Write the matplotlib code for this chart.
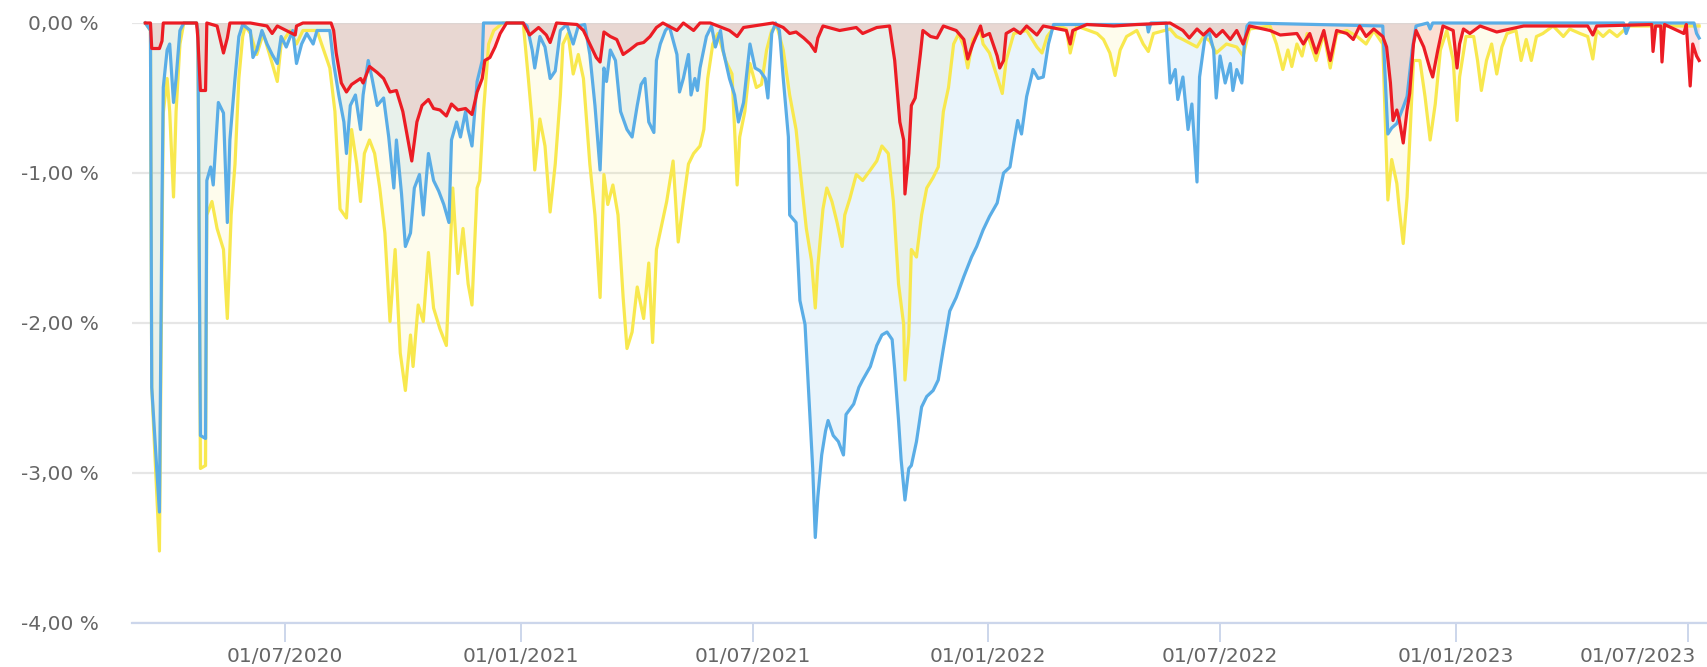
import matplotlib
matplotlib.use("Agg")
import matplotlib.pyplot as plt
import matplotlib.transforms as mtransforms
import pandas as pd

# drawdown series, (date, value in %)
yellow_series = [
    ("2020-03-14", 0), ("2020-03-18", -0.05), ("2020-03-19", -2.43), ("2020-03-25", -3.52),
    ("2020-03-27", -1.50), ("2020-03-28", -0.60), ("2020-03-31", -0.37), ("2020-04-02", -0.59),
    ("2020-04-05", -1.16), ("2020-04-07", -0.59), ("2020-04-10", -0.14), ("2020-04-13", 0),
    ("2020-04-23", 0), ("2020-04-24", -0.05), ("2020-04-26", -2.97), ("2020-04-30", -2.95),
    ("2020-05-01", -1.28), ("2020-05-05", -1.19), ("2020-05-09", -1.37), ("2020-05-14", -1.51),
    ("2020-05-17", -1.97), ("2020-05-20", -1.28), ("2020-05-23", -0.94), ("2020-05-26", -0.37),
    ("2020-05-29", -0.09), ("2020-05-31", -0.02), ("2020-06-04", -0.07), ("2020-06-09", -0.21),
    ("2020-06-14", -0.07), ("2020-06-19", -0.21), ("2020-06-25", -0.39), ("2020-06-28", -0.14),
    ("2020-07-05", -0.05), ("2020-07-10", -0.14), ("2020-07-15", -0.05), ("2020-07-26", -0.05),
    ("2020-08-05", -0.30), ("2020-08-09", -0.59), ("2020-08-13", -1.24), ("2020-08-18", -1.30),
    ("2020-08-22", -0.71), ("2020-08-26", -0.94), ("2020-08-29", -1.19), ("2020-09-01", -0.87),
    ("2020-09-05", -0.78), ("2020-09-09", -0.87), ("2020-09-13", -1.10), ("2020-09-17", -1.40),
    ("2020-09-21", -1.99), ("2020-09-25", -1.51), ("2020-09-29", -2.20), ("2020-10-03", -2.45),
    ("2020-10-07", -2.08), ("2020-10-09", -2.29), ("2020-10-13", -1.88), ("2020-10-17", -1.99),
    ("2020-10-21", -1.53), ("2020-10-25", -1.90), ("2020-10-30", -2.04), ("2020-11-04", -2.15),
    ("2020-11-09", -1.10), ("2020-11-13", -1.67), ("2020-11-17", -1.37), ("2020-11-21", -1.74),
    ("2020-11-24", -1.88), ("2020-11-28", -1.10), ("2020-11-30", -1.05), ("2020-12-03", -0.59),
    ("2020-12-07", -0.14), ("2020-12-11", -0.05), ("2020-12-18", 0), ("2021-01-03", 0),
    ("2021-01-07", -0.37), ("2021-01-10", -0.66), ("2021-01-12", -0.98), ("2021-01-16", -0.64),
    ("2021-01-20", -0.82), ("2021-01-24", -1.26), ("2021-01-28", -0.94), ("2021-02-01", -0.48),
    ("2021-02-03", -0.14), ("2021-02-07", -0.07), ("2021-02-11", -0.34), ("2021-02-15", -0.21),
    ("2021-02-19", -0.37), ("2021-02-24", -0.94), ("2021-02-28", -1.28), ("2021-03-04", -1.83),
    ("2021-03-07", -1.01), ("2021-03-10", -1.21), ("2021-03-14", -1.08), ("2021-03-18", -1.28),
    ("2021-03-22", -1.83), ("2021-03-25", -2.17), ("2021-03-29", -2.06), ("2021-04-02", -1.76),
    ("2021-04-07", -1.97), ("2021-04-11", -1.60), ("2021-04-14", -2.13), ("2021-04-17", -1.51),
    ("2021-04-21", -1.35), ("2021-04-25", -1.19), ("2021-04-30", -0.92), ("2021-05-04", -1.46),
    ("2021-05-08", -1.19), ("2021-05-12", -0.94), ("2021-05-16", -0.87), ("2021-05-21", -0.82),
    ("2021-05-24", -0.71), ("2021-05-27", -0.37), ("2021-05-31", -0.14), ("2021-06-04", -0.07),
    ("2021-06-10", -0.25), ("2021-06-15", -0.34), ("2021-06-19", -1.08), ("2021-06-21", -0.76),
    ("2021-06-25", -0.59), ("2021-06-29", -0.27), ("2021-07-04", -0.43), ("2021-07-08", -0.41),
    ("2021-07-12", -0.18), ("2021-07-16", -0.05), ("2021-07-20", -0.02), ("2021-07-25", -0.18),
    ("2021-07-30", -0.48), ("2021-08-04", -0.71), ("2021-08-08", -1.05), ("2021-08-12", -1.37),
    ("2021-08-16", -1.58), ("2021-08-19", -1.90), ("2021-08-21", -1.62), ("2021-08-25", -1.24),
    ("2021-08-28", -1.10), ("2021-09-01", -1.19), ("2021-09-05", -1.33), ("2021-09-09", -1.49),
    ("2021-09-11", -1.28), ("2021-09-15", -1.17), ("2021-09-20", -1.01), ("2021-09-25", -1.05),
    ("2021-10-01", -0.98), ("2021-10-06", -0.92), ("2021-10-10", -0.82), ("2021-10-15", -0.87),
    ("2021-10-19", -1.19), ("2021-10-23", -1.74), ("2021-10-27", -2.01), ("2021-10-28", -2.38),
    ("2021-10-31", -2.08), ("2021-11-02", -1.51), ("2021-11-06", -1.56), ("2021-11-10", -1.28),
    ("2021-11-14", -1.10), ("2021-11-19", -1.03), ("2021-11-23", -0.96), ("2021-11-27", -0.59),
    ("2021-12-01", -0.43), ("2021-12-05", -0.14), ("2021-12-09", -0.07), ("2021-12-13", -0.16),
    ("2021-12-16", -0.30), ("2021-12-20", -0.11), ("2021-12-26", -0.05), ("2021-12-28", -0.14),
    ("2022-01-02", -0.20), ("2022-01-08", -0.36), ("2022-01-12", -0.47), ("2022-01-15", -0.25),
    ("2022-01-21", -0.07), ("2022-01-31", -0.05), ("2022-02-08", -0.16), ("2022-02-12", -0.20),
    ("2022-02-16", -0.09), ("2022-02-23", -0.01), ("2022-03-03", -0.04), ("2022-03-06", -0.20),
    ("2022-03-11", -0.02), ("2022-03-27", -0.07), ("2022-04-01", -0.11), ("2022-04-06", -0.20),
    ("2022-04-10", -0.35), ("2022-04-14", -0.18), ("2022-04-19", -0.09), ("2022-04-27", -0.05),
    ("2022-05-02", -0.14), ("2022-05-06", -0.19), ("2022-05-10", -0.07), ("2022-05-23", -0.04),
    ("2022-05-28", -0.09), ("2022-06-02", -0.11), ("2022-06-13", -0.16), ("2022-06-18", -0.09),
    ("2022-06-23", -0.12), ("2022-06-28", -0.20), ("2022-07-06", -0.14), ("2022-07-14", -0.16),
    ("2022-07-19", -0.22), ("2022-07-24", -0.04), ("2022-08-09", -0.02), ("2022-08-14", -0.14),
    ("2022-08-19", -0.31), ("2022-08-23", -0.18), ("2022-08-26", -0.29), ("2022-08-30", -0.14),
    ("2022-09-03", -0.22), ("2022-09-07", -0.07), ("2022-09-14", -0.25), ("2022-09-20", -0.07),
    ("2022-09-25", -0.30), ("2022-09-30", -0.07), ("2022-10-08", -0.05), ("2022-10-16", -0.09),
    ("2022-10-23", -0.14), ("2022-10-29", -0.05), ("2022-11-05", -0.14), ("2022-11-09", -1.18),
    ("2022-11-12", -0.91), ("2022-11-16", -1.07), ("2022-11-18", -1.25), ("2022-11-21", -1.47),
    ("2022-11-24", -1.16), ("2022-11-26", -0.80), ("2022-11-29", -0.25), ("2022-12-04", -0.25),
    ("2022-12-08", -0.49), ("2022-12-12", -0.78), ("2022-12-16", -0.54), ("2022-12-20", -0.18),
    ("2022-12-25", -0.05), ("2022-12-30", -0.25), ("2023-01-02", -0.65), ("2023-01-04", -0.36),
    ("2023-01-09", -0.09), ("2023-01-15", -0.09), ("2023-01-18", -0.25), ("2023-01-21", -0.45),
    ("2023-01-25", -0.25), ("2023-01-29", -0.14), ("2023-02-02", -0.34), ("2023-02-06", -0.16),
    ("2023-02-10", -0.07), ("2023-02-17", -0.05), ("2023-02-21", -0.25), ("2023-02-25", -0.11),
    ("2023-03-01", -0.25), ("2023-03-05", -0.09), ("2023-03-10", -0.07), ("2023-03-18", -0.02),
    ("2023-03-26", -0.09), ("2023-03-31", -0.04), ("2023-04-08", -0.07), ("2023-04-14", -0.09),
    ("2023-04-18", -0.24), ("2023-04-21", -0.05), ("2023-04-26", -0.09), ("2023-05-01", -0.05),
    ("2023-05-07", -0.09), ("2023-05-12", -0.05), ("2023-05-17", -0.02), ("2023-07-10", -0.02),
]

blue_series = [
    ("2020-03-14", 0), ("2020-03-18", -0.05), ("2020-03-19", -2.43), ("2020-03-25", -3.26),
    ("2020-03-27", -1.20), ("2020-03-28", -0.43), ("2020-03-31", -0.18), ("2020-04-02", -0.14),
    ("2020-04-05", -0.53), ("2020-04-07", -0.37), ("2020-04-10", -0.05), ("2020-04-13", 0),
    ("2020-04-23", 0), ("2020-04-24", -0.05), ("2020-04-26", -2.75), ("2020-04-30", -2.77),
    ("2020-05-01", -1.05), ("2020-05-04", -0.96), ("2020-05-06", -1.08), ("2020-05-10", -0.53),
    ("2020-05-14", -0.60), ("2020-05-17", -1.33), ("2020-05-19", -0.78), ("2020-05-23", -0.37),
    ("2020-05-26", -0.09), ("2020-05-29", -0.01), ("2020-06-04", -0.05), ("2020-06-06", -0.23),
    ("2020-06-09", -0.18), ("2020-06-13", -0.05), ("2020-06-17", -0.14), ("2020-06-21", -0.21),
    ("2020-06-25", -0.27), ("2020-06-28", -0.09), ("2020-07-02", -0.16), ("2020-07-07", -0.05),
    ("2020-07-10", -0.27), ("2020-07-14", -0.14), ("2020-07-18", -0.07), ("2020-07-23", -0.14),
    ("2020-07-26", -0.05), ("2020-08-05", -0.05), ("2020-08-08", -0.27), ("2020-08-12", -0.48),
    ("2020-08-16", -0.66), ("2020-08-18", -0.87), ("2020-08-21", -0.55), ("2020-08-25", -0.48),
    ("2020-08-29", -0.71), ("2020-08-31", -0.48), ("2020-09-04", -0.25), ("2020-09-07", -0.37),
    ("2020-09-11", -0.55), ("2020-09-16", -0.50), ("2020-09-20", -0.76), ("2020-09-24", -1.10),
    ("2020-09-26", -0.78), ("2020-09-30", -1.14), ("2020-10-03", -1.49), ("2020-10-07", -1.40),
    ("2020-10-10", -1.10), ("2020-10-14", -1.01), ("2020-10-17", -1.28), ("2020-10-21", -0.87),
    ("2020-10-25", -1.05), ("2020-10-29", -1.12), ("2020-11-02", -1.21), ("2020-11-06", -1.33),
    ("2020-11-08", -0.78), ("2020-11-12", -0.66), ("2020-11-15", -0.76), ("2020-11-19", -0.59),
    ("2020-11-21", -0.71), ("2020-11-24", -0.82), ("2020-11-28", -0.39), ("2020-12-02", -0.25),
    ("2020-12-03", 0), ("2021-01-03", 0), ("2021-01-06", -0.02), ("2021-01-10", -0.18),
    ("2021-01-12", -0.30), ("2021-01-16", -0.09), ("2021-01-20", -0.16), ("2021-01-24", -0.37),
    ("2021-01-28", -0.32), ("2021-02-01", -0.05), ("2021-02-06", -0.01), ("2021-02-11", -0.14),
    ("2021-02-15", -0.02), ("2021-02-20", -0.01), ("2021-02-24", -0.21), ("2021-02-28", -0.55),
    ("2021-03-04", -0.98), ("2021-03-07", -0.30), ("2021-03-09", -0.39), ("2021-03-12", -0.18),
    ("2021-03-16", -0.25), ("2021-03-20", -0.59), ("2021-03-25", -0.71), ("2021-03-29", -0.76),
    ("2021-04-02", -0.55), ("2021-04-05", -0.41), ("2021-04-08", -0.37), ("2021-04-11", -0.66),
    ("2021-04-15", -0.73), ("2021-04-17", -0.25), ("2021-04-20", -0.14), ("2021-04-24", -0.05),
    ("2021-04-27", -0.02), ("2021-05-03", -0.21), ("2021-05-05", -0.46), ("2021-05-08", -0.37),
    ("2021-05-12", -0.21), ("2021-05-14", -0.48), ("2021-05-17", -0.37), ("2021-05-19", -0.45),
    ("2021-05-21", -0.30), ("2021-05-26", -0.09), ("2021-05-30", -0.02), ("2021-06-02", -0.16),
    ("2021-06-06", -0.05), ("2021-06-08", -0.18), ("2021-06-13", -0.37), ("2021-06-17", -0.48),
    ("2021-06-20", -0.66), ("2021-06-24", -0.53), ("2021-06-29", -0.14), ("2021-07-03", -0.30),
    ("2021-07-07", -0.32), ("2021-07-11", -0.37), ("2021-07-13", -0.50), ("2021-07-16", -0.07),
    ("2021-07-19", 0), ("2021-07-22", -0.05), ("2021-07-25", -0.37), ("2021-07-29", -0.76),
    ("2021-07-30", -1.28), ("2021-08-04", -1.33), ("2021-08-07", -1.85), ("2021-08-11", -2.01),
    ("2021-08-15", -2.65), ("2021-08-17", -2.97), ("2021-08-19", -3.43), ("2021-08-21", -3.16),
    ("2021-08-24", -2.88), ("2021-08-27", -2.72), ("2021-08-29", -2.65), ("2021-09-02", -2.75),
    ("2021-09-06", -2.79), ("2021-09-10", -2.88), ("2021-09-12", -2.61), ("2021-09-18", -2.54),
    ("2021-09-22", -2.43), ("2021-09-25", -2.38), ("2021-10-01", -2.29), ("2021-10-06", -2.15),
    ("2021-10-10", -2.08), ("2021-10-14", -2.06), ("2021-10-18", -2.11), ("2021-10-20", -2.31),
    ("2021-10-23", -2.65), ("2021-10-25", -2.91), ("2021-10-28", -3.18), ("2021-10-31", -2.97),
    ("2021-11-02", -2.95), ("2021-11-06", -2.79), ("2021-11-10", -2.56), ("2021-11-14", -2.49),
    ("2021-11-19", -2.45), ("2021-11-23", -2.38), ("2021-11-27", -2.17), ("2021-12-02", -1.92),
    ("2021-12-07", -1.83), ("2021-12-13", -1.69), ("2021-12-19", -1.56), ("2021-12-23", -1.49),
    ("2021-12-28", -1.38), ("2022-01-02", -1.29), ("2022-01-08", -1.20), ("2022-01-13", -1.00),
    ("2022-01-18", -0.96), ("2022-01-21", -0.80), ("2022-01-24", -0.65), ("2022-01-27", -0.74),
    ("2022-01-31", -0.49), ("2022-02-05", -0.31), ("2022-02-09", -0.37), ("2022-02-13", -0.36),
    ("2022-02-17", -0.14), ("2022-02-21", -0.01), ("2022-05-05", -0.01), ("2022-05-06", -0.06),
    ("2022-05-08", 0), ("2022-05-20", 0), ("2022-05-23", -0.40), ("2022-05-27", -0.31),
    ("2022-05-29", -0.51), ("2022-06-02", -0.36), ("2022-06-06", -0.71), ("2022-06-09", -0.54),
    ("2022-06-13", -1.06), ("2022-06-15", -0.36), ("2022-06-19", -0.11), ("2022-06-22", -0.05),
    ("2022-06-26", -0.18), ("2022-06-28", -0.50), ("2022-07-01", -0.22), ("2022-07-05", -0.40),
    ("2022-07-09", -0.27), ("2022-07-11", -0.45), ("2022-07-14", -0.31), ("2022-07-18", -0.40),
    ("2022-07-20", -0.14), ("2022-07-22", -0.02), ("2022-07-24", 0), ("2022-11-05", -0.02),
    ("2022-11-09", -0.74), ("2022-11-12", -0.70), ("2022-11-16", -0.67), ("2022-11-21", -0.56),
    ("2022-11-24", -0.49), ("2022-11-28", -0.18), ("2022-12-01", -0.02), ("2022-12-10", 0),
    ("2022-12-12", -0.04), ("2022-12-14", 0), ("2023-05-12", 0), ("2023-05-14", -0.07),
    ("2023-05-17", 0), ("2023-07-06", 0), ("2023-07-08", -0.07), ("2023-07-10", -0.10),
]

red_series = [
    ("2020-03-14", 0), ("2020-03-18", 0), ("2020-03-19", -0.17), ("2020-03-25", -0.17),
    ("2020-03-27", -0.12), ("2020-03-28", 0), ("2020-04-23", 0), ("2020-04-24", -0.10),
    ("2020-04-26", -0.45), ("2020-04-30", -0.45), ("2020-05-01", 0), ("2020-05-09", -0.02),
    ("2020-05-14", -0.20), ("2020-05-17", -0.10), ("2020-05-19", 0), ("2020-06-04", 0),
    ("2020-06-17", -0.02), ("2020-06-21", -0.07), ("2020-06-25", -0.02), ("2020-07-09", -0.08),
    ("2020-07-10", -0.02), ("2020-07-15", 0), ("2020-08-06", 0), ("2020-08-08", -0.05),
    ("2020-08-10", -0.20), ("2020-08-14", -0.40), ("2020-08-18", -0.46), ("2020-08-22", -0.41),
    ("2020-08-29", -0.37), ("2020-08-31", -0.40), ("2020-09-05", -0.29), ("2020-09-11", -0.33),
    ("2020-09-16", -0.37), ("2020-09-21", -0.46), ("2020-09-26", -0.45), ("2020-10-01", -0.59),
    ("2020-10-05", -0.78), ("2020-10-08", -0.92), ("2020-10-12", -0.66), ("2020-10-16", -0.55),
    ("2020-10-21", -0.51), ("2020-10-25", -0.57), ("2020-10-30", -0.58), ("2020-11-04", -0.62),
    ("2020-11-08", -0.54), ("2020-11-13", -0.58), ("2020-11-19", -0.57), ("2020-11-24", -0.61),
    ("2020-11-28", -0.46), ("2020-12-02", -0.37), ("2020-12-04", -0.25), ("2020-12-08", -0.23),
    ("2020-12-12", -0.16), ("2020-12-16", -0.07), ("2020-12-21", 0), ("2021-01-03", 0),
    ("2021-01-08", -0.08), ("2021-01-15", -0.03), ("2021-01-21", -0.08), ("2021-01-24", -0.13),
    ("2021-01-29", 0), ("2021-02-14", -0.01), ("2021-02-19", -0.05), ("2021-02-24", -0.14),
    ("2021-03-01", -0.23), ("2021-03-04", -0.26), ("2021-03-07", -0.06), ("2021-03-12", -0.09),
    ("2021-03-17", -0.11), ("2021-03-22", -0.21), ("2021-03-27", -0.18), ("2021-04-02", -0.14),
    ("2021-04-07", -0.13), ("2021-04-12", -0.09), ("2021-04-17", -0.03), ("2021-04-22", 0),
    ("2021-05-03", -0.05), ("2021-05-08", 0), ("2021-05-16", -0.05), ("2021-05-21", 0),
    ("2021-05-29", 0), ("2021-06-13", -0.05), ("2021-06-19", -0.09), ("2021-06-24", -0.03),
    ("2021-07-17", 0), ("2021-07-25", -0.03), ("2021-07-30", -0.07), ("2021-08-04", -0.06),
    ("2021-08-10", -0.10), ("2021-08-15", -0.14), ("2021-08-19", -0.19), ("2021-08-21", -0.10),
    ("2021-08-25", -0.02), ("2021-09-07", -0.05), ("2021-09-20", -0.03), ("2021-09-25", -0.07),
    ("2021-10-06", -0.03), ("2021-10-16", -0.02), ("2021-10-20", -0.25), ("2021-10-24", -0.66),
    ("2021-10-27", -0.78), ("2021-10-28", -1.14), ("2021-10-31", -0.87), ("2021-11-02", -0.55),
    ("2021-11-05", -0.50), ("2021-11-09", -0.21), ("2021-11-11", -0.05), ("2021-11-17", -0.09),
    ("2021-11-22", -0.10), ("2021-11-27", -0.02), ("2021-12-07", -0.05), ("2021-12-13", -0.11),
    ("2021-12-16", -0.24), ("2021-12-20", -0.14), ("2021-12-26", -0.02), ("2021-12-28", -0.09),
    ("2022-01-02", -0.07), ("2022-01-08", -0.22), ("2022-01-10", -0.30), ("2022-01-13", -0.25),
    ("2022-01-15", -0.07), ("2022-01-21", -0.04), ("2022-01-26", -0.07), ("2022-01-31", -0.02),
    ("2022-02-08", -0.08), ("2022-02-13", -0.02), ("2022-03-03", -0.05), ("2022-03-06", -0.14),
    ("2022-03-08", -0.05), ("2022-03-19", -0.01), ("2022-04-09", -0.02), ("2022-04-27", -0.01),
    ("2022-05-23", 0), ("2022-06-02", -0.05), ("2022-06-07", -0.10), ("2022-06-13", -0.04),
    ("2022-06-18", -0.08), ("2022-06-23", -0.04), ("2022-06-28", -0.09), ("2022-07-03", -0.05),
    ("2022-07-09", -0.11), ("2022-07-14", -0.05), ("2022-07-19", -0.14), ("2022-07-24", -0.02),
    ("2022-08-09", -0.05), ("2022-08-17", -0.08), ("2022-08-30", -0.07), ("2022-09-04", -0.14),
    ("2022-09-09", -0.07), ("2022-09-14", -0.20), ("2022-09-20", -0.05), ("2022-09-25", -0.25),
    ("2022-09-30", -0.05), ("2022-10-08", -0.07), ("2022-10-13", -0.11), ("2022-10-18", -0.02),
    ("2022-10-23", -0.09), ("2022-10-29", -0.04), ("2022-11-05", -0.09), ("2022-11-08", -0.16),
    ("2022-11-11", -0.40), ("2022-11-13", -0.65), ("2022-11-16", -0.58), ("2022-11-18", -0.65),
    ("2022-11-21", -0.80), ("2022-11-24", -0.58), ("2022-11-26", -0.47), ("2022-11-29", -0.14),
    ("2022-12-01", -0.05), ("2022-12-07", -0.16), ("2022-12-12", -0.31), ("2022-12-14", -0.36),
    ("2022-12-18", -0.18), ("2022-12-22", -0.02), ("2022-12-30", -0.05), ("2023-01-02", -0.30),
    ("2023-01-04", -0.14), ("2023-01-07", -0.04), ("2023-01-12", -0.07), ("2023-01-20", -0.02),
    ("2023-02-02", -0.06), ("2023-02-23", -0.02), ("2023-04-14", -0.02), ("2023-04-18", -0.08),
    ("2023-04-21", -0.02), ("2023-06-03", -0.01), ("2023-06-04", -0.19), ("2023-06-06", -0.02),
    ("2023-06-10", -0.02), ("2023-06-11", -0.26), ("2023-06-13", -0.01), ("2023-06-28", -0.07),
    ("2023-06-30", -0.01), ("2023-07-03", -0.42), ("2023-07-05", -0.14), ("2023-07-08", -0.22),
    ("2023-07-10", -0.25),
]

tick_dates = ["2020-07-01", "2021-01-01", "2021-07-01", "2022-01-01",
              "2022-07-01", "2023-01-01", "2023-07-01"]
tick_labels = ["01/07/2020", "01/01/2021", "01/07/2021", "01/01/2022",
               "01/07/2022", "01/01/2023", "01/07/2023"]
y_ticks = [0, -1, -2, -3, -4]
y_labels = ["0,00 %", "-1,00 %", "-2,00 %", "-3,00 %", "-4,00 %"]

# yellow first, red on top
layers = [
    (yellow_series, "#f8e84e", 0.10),
    (blue_series, "#5aade6", 0.13),
    (red_series, "#ec1c24", 0.12),
]

fig = plt.figure(figsize=(17.08, 6.67), dpi=100)
ax = fig.add_axes([132 / 1708, 44 / 667, 1576 / 1708, 600 / 667])

frames = []
for series, color, alpha in layers:
    df = pd.DataFrame(series, columns=["date", "value"])
    df["date"] = pd.to_datetime(df["date"])
    frames.append((df, color, alpha))

for df, color, alpha in frames:
    ax.fill_between(df["date"], df["value"], 0, color=color, alpha=alpha, lw=0, zorder=2)
for df, color, alpha in frames:
    ax.plot(df["date"], df["value"], color=color, lw=2.3, zorder=3,
            solid_joinstyle="round", clip_on=False)

ax.set_ylim(-4, 0)
ax.set_xlim(pd.Timestamp("2020-03-03 14:00"), pd.Timestamp("2023-07-16 22:00"))

ax.set_yticks(y_ticks, y_labels)
ax.set_xticks(pd.to_datetime(tick_dates), tick_labels)

ax.yaxis.grid(True, color="#e6e6e6", lw=1.6)
ax.set_axisbelow(True)
for side in ["left", "right", "top"]:
    ax.spines[side].set_visible(False)
ax.spines["bottom"].set_color("#ccd6eb")
ax.spines["bottom"].set_linewidth(1.6)

ax.tick_params(axis="y", length=0, pad=24, labelsize=14.5, labelcolor="#666666")
ax.tick_params(axis="x", length=14, width=1.4, color="#ccd6eb", pad=3,
               labelsize=14.5, labelcolor="#666666")

# last label kept inside the chart, like the source
last = ax.get_xticklabels()[-1]
last.set_horizontalalignment("right")
last.set_transform(last.get_transform() +
                   mtransforms.ScaledTranslation(8 / 100, 0, fig.dpi_scale_trans))

fig.savefig("out.png", dpi=100, facecolor="white")
